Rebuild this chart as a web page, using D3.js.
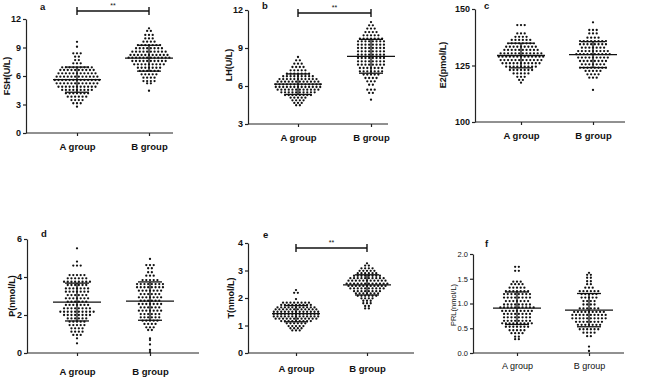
<!DOCTYPE html>
<html>
<head>
<meta charset="utf-8">
<script src="https://cdn.jsdelivr.net/npm/d3@7"></script>
<style>
  body { margin: 0; background: #fff; }
  text { font-family: "Liberation Sans", Arial, sans-serif; fill: #111; }
</style>
</head>
<body>
<div id="chart"></div>
<script>
const groups = ["A group", "B group"];

// FSH (U/L)
const fshA = [9.6, 9.08, 8.39, 8.39, 8.39, 8.03, 8.03, 7.68, 7.68, 7.33, 7.33, 7.33,
  6.91, 6.91, 6.91, 6.91, 6.91, 6.91, 6.91, 6.91, 6.91,
  6.63, 6.63, 6.63, 6.63, 6.63, 6.63, 6.63, 6.63, 6.63, 6.63,
  6.28, 6.28, 6.28, 6.28, 6.28, 6.28, 6.28, 6.28, 6.28, 6.28, 6.28,
  5.93, 5.93, 5.93, 5.93, 5.93, 5.93, 5.93, 5.93, 5.93, 5.93, 5.93, 5.93,
  5.58, 5.58, 5.58, 5.58, 5.58, 5.58, 5.58, 5.58, 5.58, 5.58, 5.58, 5.58, 5.58,
  5.23, 5.23, 5.23, 5.23, 5.23, 5.23, 5.23, 5.23, 5.23, 5.23, 5.23, 5.23,
  4.87, 4.87, 4.87, 4.87, 4.87, 4.87, 4.87, 4.87, 4.87, 4.87, 4.87,
  4.53, 4.53, 4.53, 4.53, 4.53, 4.53, 4.53, 4.53, 4.53,
  4.18, 4.18, 4.18, 4.18, 4.18, 4.18, 4.18,
  3.82, 3.82, 3.82, 3.82, 3.82, 3.82,
  3.47, 3.47, 3.47, 3.47, 3.13, 3.13, 3.13, 2.77];
const fshB = [11.02, 10.74, 10.74, 10.32, 10.32, 10.32, 9.96, 9.96, 9.96, 9.61, 9.61, 9.61, 9.61,
  9.26, 9.26, 9.26, 9.26, 9.26, 9.26, 9.26,
  8.92, 8.92, 8.92, 8.92, 8.92, 8.92, 8.92, 8.92,
  8.56, 8.56, 8.56, 8.56, 8.56, 8.56, 8.56, 8.56, 8.56, 8.56,
  8.21, 8.21, 8.21, 8.21, 8.21, 8.21, 8.21, 8.21, 8.21, 8.21, 8.21,
  7.93, 7.93, 7.93, 7.93, 7.93, 7.93, 7.93, 7.93, 7.93, 7.93, 7.93, 7.93,
  7.58, 7.58, 7.58, 7.58, 7.58, 7.58, 7.58, 7.58, 7.58, 7.58,
  7.23, 7.23, 7.23, 7.23, 7.23, 7.23, 7.23, 7.23, 7.23,
  6.87, 6.87, 6.87, 6.87, 6.87, 6.87, 6.87,
  6.53, 6.53, 6.53, 6.53, 6.53, 6.53,
  6.18, 6.18, 6.18, 6.18, 6.18,
  5.82, 5.82, 5.82, 5.82, 5.47, 5.47, 5.47, 5.47, 5.23, 5.23, 4.45];
const fshTicks = [0, 3, 6, 9, 12];

// LH (U/L)
const lhA = [8.29, 8.03, 8.03, 7.76, 7.76, 7.76, 7.5, 7.5, 7.5, 7.5,
  7.24, 7.24, 7.24, 7.24, 7.24,
  6.97, 6.97, 6.97, 6.97, 6.97, 6.97, 6.97,
  6.77, 6.77, 6.77, 6.77, 6.77, 6.77, 6.77, 6.77, 6.77,
  6.55, 6.55, 6.55, 6.55, 6.55, 6.55, 6.55, 6.55, 6.55, 6.55, 6.55,
  6.34, 6.34, 6.34, 6.34, 6.34, 6.34, 6.34, 6.34, 6.34, 6.34, 6.34, 6.34,
  6.13, 6.13, 6.13, 6.13, 6.13, 6.13, 6.13, 6.13, 6.13, 6.13, 6.13, 6.13, 6.13,
  5.92, 5.92, 5.92, 5.92, 5.92, 5.92, 5.92, 5.92, 5.92, 5.92, 5.92, 5.92, 5.92,
  5.71, 5.71, 5.71, 5.71, 5.71, 5.71, 5.71, 5.71, 5.71, 5.71, 5.71, 5.71,
  5.5, 5.5, 5.5, 5.5, 5.5, 5.5, 5.5, 5.5, 5.5, 5.5,
  5.29, 5.29, 5.29, 5.29, 5.29, 5.29, 5.29, 5.29,
  5.08, 5.08, 5.08, 5.08, 5.08, 4.87, 4.87, 4.87, 4.87,
  4.66, 4.66, 4.66, 4.48, 4.48];
const lhB = [11.05, 10.79, 10.79, 10.53, 10.53, 10.53, 10.26, 10.26, 10.26, 10.26,
  10.0, 10.0, 10.0, 10.0, 10.0,
  9.74, 9.74, 9.74, 9.74, 9.74, 9.74, 9.74,
  9.53, 9.53, 9.53, 9.53, 9.53, 9.53, 9.53, 9.53,
  9.26, 9.26, 9.26, 9.26, 9.26, 9.26, 9.26, 9.26,
  9.0, 9.0, 9.0, 9.0, 9.0, 9.0, 9.0, 9.0,
  8.74, 8.74, 8.74, 8.74, 8.74, 8.74, 8.74, 8.74,
  8.47, 8.47, 8.47, 8.47, 8.47, 8.47, 8.47, 8.47,
  8.21, 8.21, 8.21, 8.21, 8.21, 8.21, 8.21, 8.21,
  7.95, 7.95, 7.95, 7.95, 7.95, 7.95, 7.95, 7.95,
  7.68, 7.68, 7.68, 7.68, 7.68, 7.68, 7.68, 7.68,
  7.42, 7.42, 7.42, 7.42, 7.42, 7.42, 7.42,
  7.16, 7.16, 7.16, 7.16, 7.16, 7.16, 7.16,
  6.9, 6.9, 6.9, 6.9, 6.9, 6.63, 6.63, 6.63, 6.63,
  6.37, 6.37, 6.37, 6.1, 6.1, 5.71, 5.71, 5.71, 5.45, 5.45, 4.92];
const lhTicks = [3, 6, 9, 12];

// E2 (pmol/L)
const e2A = [142.9, 142.9, 142.9, 139.2, 139.2, 139.2, 137.7, 137.7, 137.7, 137.7,
  136.3, 136.3, 136.3, 136.3, 136.3, 136.3,
  134.8, 134.8, 134.8, 134.8, 134.8, 134.8, 134.8, 134.8,
  133.3, 133.3, 133.3, 133.3, 133.3, 133.3, 133.3, 133.3, 133.3,
  131.9, 131.9, 131.9, 131.9, 131.9, 131.9, 131.9, 131.9, 131.9, 131.9,
  130.4, 130.4, 130.4, 130.4, 130.4, 130.4, 130.4, 130.4, 130.4, 130.4, 130.4, 130.4,
  128.9, 128.9, 128.9, 128.9, 128.9, 128.9, 128.9, 128.9, 128.9, 128.9, 128.9, 128.9, 128.9,
  127.4, 127.4, 127.4, 127.4, 127.4, 127.4, 127.4, 127.4, 127.4, 127.4, 127.4, 127.4,
  126.0, 126.0, 126.0, 126.0, 126.0, 126.0, 126.0, 126.0, 126.0, 126.0, 126.0,
  124.5, 124.5, 124.5, 124.5, 124.5, 124.5, 124.5, 124.5, 124.5,
  123.0, 123.0, 123.0, 123.0, 123.0, 123.0, 123.0,
  121.5, 121.5, 121.5, 121.5, 121.5, 120.0, 120.0, 120.0, 118.6, 118.6, 117.4];
const e2B = [144.1, 140.7, 140.7, 140.7, 139.2, 139.2, 139.2, 137.3, 137.3, 137.3, 137.3,
  135.8, 135.8, 135.8, 135.8, 135.8, 135.8, 135.8, 135.8,
  134.4, 134.4, 134.4, 134.4, 134.4, 134.4, 134.4, 134.4,
  132.9, 132.9, 132.9, 132.9, 132.9, 132.9, 132.9,
  131.4, 131.4, 131.4, 131.4, 131.4, 131.4, 131.4, 131.4, 131.4,
  130.0, 130.0, 130.0, 130.0, 130.0, 130.0, 130.0, 130.0, 130.0, 130.0,
  128.5, 128.5, 128.5, 128.5, 128.5, 128.5, 128.5, 128.5, 128.5,
  127.0, 127.0, 127.0, 127.0, 127.0, 127.0, 127.0, 127.0,
  125.5, 125.5, 125.5, 125.5, 125.5, 125.5, 125.5,
  124.0, 124.0, 124.0, 124.0, 124.0, 124.0, 124.0, 124.0,
  122.6, 122.6, 122.6, 122.6, 122.6, 121.1, 121.1, 121.1, 121.1,
  119.6, 119.6, 119.6, 114.2];
const e2Ticks = [100, 125, 150];

// P (nmol/L)
const pA = [5.51, 4.81, 4.6, 4.6, 4.6, 4.1, 4.1, 4.1, 4.1, 4.1,
  3.93, 3.93, 3.93, 3.93, 3.93, 3.93,
  3.75, 3.75, 3.75, 3.75, 3.75, 3.75, 3.75, 3.75,
  3.58, 3.58, 3.58, 3.58, 3.58, 3.58,
  3.4, 3.4, 3.4, 3.4, 3.4, 3.4, 3.4,
  3.23, 3.23, 3.23, 3.23, 3.23, 3.23, 3.23,
  3.05, 3.05, 3.05, 3.05, 3.05, 3.05,
  2.88, 2.88, 2.88, 2.88, 2.88, 2.88, 2.88,
  2.7, 2.7, 2.7, 2.7, 2.7, 2.7,
  2.53, 2.53, 2.53, 2.53, 2.53, 2.53, 2.53,
  2.35, 2.35, 2.35, 2.35, 2.35, 2.35, 2.35, 2.35,
  2.17, 2.17, 2.17, 2.17, 2.17, 2.17, 2.17, 2.17, 2.17, 2.17,
  2.0, 2.0, 2.0, 2.0, 2.0, 2.0, 2.0, 2.0,
  1.82, 1.82, 1.82, 1.82, 1.82, 1.82,
  1.65, 1.65, 1.65, 1.65, 1.65, 1.47, 1.47, 1.47, 1.47, 1.47,
  1.3, 1.3, 1.3, 1.3, 1.12, 1.12, 1.12, 1.12, 0.95, 0.95, 0.95, 0.77, 0.51];
const pB = [4.95, 4.63, 4.63, 4.63, 4.46, 4.46, 4.25, 4.25, 4.07, 4.07, 4.07,
  3.84, 3.84, 3.84, 3.84, 3.84,
  3.63, 3.63, 3.63, 3.63, 3.63, 3.63, 3.63, 3.63,
  3.46, 3.46, 3.46, 3.46, 3.46, 3.46, 3.46, 3.46,
  3.28, 3.28, 3.28, 3.28, 3.28, 3.28, 3.28,
  3.1, 3.1, 3.1, 3.1, 3.1, 3.1,
  2.93, 2.93, 2.93, 2.93, 2.93, 2.93, 2.93,
  2.75, 2.75, 2.75, 2.75, 2.75, 2.75,
  2.58, 2.58, 2.58, 2.58, 2.58, 2.58, 2.58,
  2.4, 2.4, 2.4, 2.4, 2.4, 2.4,
  2.23, 2.23, 2.23, 2.23, 2.23, 2.23, 2.23,
  2.05, 2.05, 2.05, 2.05, 2.05, 2.05,
  1.88, 1.88, 1.88, 1.88, 1.88, 1.88,
  1.7, 1.7, 1.7, 1.7, 1.7, 1.53, 1.53, 1.53, 1.53,
  1.35, 1.35, 1.35, 1.21, 1.21, 0.77, 0.68, 0.45, 0.16, 0.05];
const pTicks = [0, 2, 4, 6];

// T (nmol/L)
const tA = [2.29, 2.19, 2.19, 1.96,
  1.83, 1.83, 1.83, 1.83, 1.83, 1.83, 1.83, 1.83,
  1.75, 1.75, 1.75, 1.75, 1.75, 1.75, 1.75, 1.75, 1.75,
  1.66, 1.66, 1.66, 1.66, 1.66, 1.66, 1.66, 1.66, 1.66, 1.66, 1.66,
  1.59, 1.59, 1.59, 1.59, 1.59, 1.59, 1.59, 1.59, 1.59, 1.59, 1.59, 1.59,
  1.5, 1.5, 1.5, 1.5, 1.5, 1.5, 1.5, 1.5, 1.5, 1.5, 1.5, 1.5, 1.5,
  1.42, 1.42, 1.42, 1.42, 1.42, 1.42, 1.42, 1.42, 1.42, 1.42, 1.42, 1.42, 1.42,
  1.33, 1.33, 1.33, 1.33, 1.33, 1.33, 1.33, 1.33, 1.33, 1.33, 1.33, 1.33, 1.33,
  1.25, 1.25, 1.25, 1.25, 1.25, 1.25, 1.25, 1.25, 1.25, 1.25, 1.25, 1.25,
  1.16, 1.16, 1.16, 1.16, 1.16, 1.16, 1.16, 1.16, 1.16,
  1.08, 1.08, 1.08, 1.08, 1.08, 1.08,
  0.98, 0.98, 0.98, 0.98, 0.98, 0.9, 0.9, 0.9, 0.9, 0.82, 0.82, 0.82];
const tB = [3.26, 3.18, 3.18, 3.08, 3.08, 3.08, 3.08, 2.99, 2.99, 2.99, 2.99, 2.99,
  2.9, 2.9, 2.9, 2.9, 2.9, 2.9,
  2.81, 2.81, 2.81, 2.81, 2.81, 2.81, 2.81, 2.81,
  2.72, 2.72, 2.72, 2.72, 2.72, 2.72, 2.72, 2.72, 2.72, 2.72,
  2.63, 2.63, 2.63, 2.63, 2.63, 2.63, 2.63, 2.63, 2.63, 2.63, 2.63,
  2.52, 2.52, 2.52, 2.52, 2.52, 2.52, 2.52, 2.52, 2.52, 2.52, 2.52, 2.52,
  2.44, 2.44, 2.44, 2.44, 2.44, 2.44, 2.44, 2.44, 2.44, 2.44, 2.44,
  2.35, 2.35, 2.35, 2.35, 2.35, 2.35, 2.35, 2.35, 2.35, 2.35,
  2.25, 2.25, 2.25, 2.25, 2.25, 2.25, 2.25, 2.25,
  2.17, 2.17, 2.17, 2.17, 2.17, 2.17, 2.17,
  2.08, 2.08, 2.08, 2.08, 2.08, 2.08,
  1.99, 1.99, 1.99, 1.99, 1.9, 1.9, 1.9, 1.81, 1.81, 1.81, 1.71, 1.71, 1.62, 1.62];
const tTicks = [0, 1, 2, 3, 4];

// PRL (nmol/L)
const prlA = [1.74, 1.74, 1.66, 1.66, 1.44, 1.44, 1.44, 1.39, 1.39, 1.39, 1.39,
  1.32, 1.32, 1.32, 1.32, 1.32,
  1.25, 1.25, 1.25, 1.25, 1.25, 1.25, 1.25,
  1.19, 1.19, 1.19, 1.19, 1.19, 1.19, 1.19, 1.19,
  1.12, 1.12, 1.12, 1.12, 1.12, 1.12, 1.12, 1.12,
  1.05, 1.05, 1.05, 1.05, 1.05, 1.05, 1.05,
  0.98, 0.98, 0.98, 0.98, 0.98, 0.98, 0.98, 0.98,
  0.92, 0.92, 0.92, 0.92, 0.92, 0.92, 0.92, 0.92, 0.92, 0.92,
  0.85, 0.85, 0.85, 0.85, 0.85, 0.85, 0.85, 0.85, 0.85,
  0.79, 0.79, 0.79, 0.79, 0.79, 0.79, 0.79, 0.79,
  0.72, 0.72, 0.72, 0.72, 0.72, 0.72, 0.72, 0.72,
  0.65, 0.65, 0.65, 0.65, 0.65, 0.65, 0.65, 0.65,
  0.6, 0.6, 0.6, 0.6, 0.6, 0.6, 0.6, 0.6, 0.6,
  0.53, 0.53, 0.53, 0.53, 0.53, 0.53, 0.53,
  0.46, 0.46, 0.46, 0.46, 0.46, 0.4, 0.4, 0.4, 0.4, 0.33, 0.33, 0.28, 0.28];
const prlB = [1.62, 1.58, 1.58, 1.52, 1.52, 1.45, 1.45, 1.39, 1.39, 1.32, 1.32, 1.32,
  1.25, 1.25, 1.25, 1.25, 1.25, 1.25,
  1.19, 1.19, 1.19, 1.19, 1.19, 1.12, 1.12, 1.12, 1.12, 1.12,
  1.05, 1.05, 1.05, 1.05, 0.98, 0.98, 0.98, 0.98,
  0.9, 0.9, 0.9, 0.9, 0.9, 0.9,
  0.83, 0.83, 0.83, 0.83, 0.83, 0.83, 0.83, 0.83, 0.83,
  0.77, 0.77, 0.77, 0.77, 0.77, 0.77, 0.77, 0.77, 0.77, 0.77,
  0.7, 0.7, 0.7, 0.7, 0.7, 0.7, 0.7, 0.7, 0.7, 0.7,
  0.63, 0.63, 0.63, 0.63, 0.63, 0.63, 0.63, 0.63,
  0.57, 0.57, 0.57, 0.57, 0.57, 0.57, 0.57,
  0.48, 0.48, 0.48, 0.48, 0.48, 0.48,
  0.41, 0.41, 0.41, 0.41, 0.34, 0.34, 0.13, 0.04];
const prlTicks = [0, 0.5, 1.0, 1.5, 2.0];

const panels = [
  { letter: "a", title: "FSH(U/L)", A: fshA, B: fshB, ticks: fshTicks, fmt: d3.format("d"), sig: "**" },
  { letter: "b", title: "LH(U/L)", A: lhA, B: lhB, ticks: lhTicks, fmt: d3.format("d"), sig: "**" },
  { letter: "c", title: "E2(pmol/L)", A: e2A, B: e2B, ticks: e2Ticks, fmt: d3.format("d"), sig: null },
  { letter: "d", title: "P(nmol/L)", A: pA, B: pB, ticks: pTicks, fmt: d3.format("d"), sig: null },
  { letter: "e", title: "T(nmol/L)", A: tA, B: tB, ticks: tTicks, fmt: d3.format("d"), sig: "**" },
  { letter: "f", title: "PRL(nmol/L)", A: prlA, B: prlB, ticks: prlTicks, fmt: d3.format(".1f"), sig: null }
];

// where each panel sits in the page
const frames = [
  { ax: 26, xEnd: 173, top: 19, bottom: 133, pA: 77, pB: 149, lab: 17, letX: 40, letY: 10, titX: 10, titY: 76, sigY: 11, bold: true },
  { ax: 248, xEnd: 388, top: 10, bottom: 124, pA: 298, pB: 371, lab: 17, letX: 262, letY: 9, titX: 232, titY: 65, sigY: 13, bold: true },
  { ax: 475, xEnd: 625, top: 9, bottom: 122, pA: 521, pB: 593, lab: 16.5, letX: 484, letY: 9, titX: 446, titY: 65, sigY: 0, bold: true },
  { ax: 27, xEnd: 199, top: 239, bottom: 353, pA: 77, pB: 150, lab: 21.5, letX: 41, letY: 237, titX: 15, titY: 296, sigY: 0, bold: true },
  { ax: 248, xEnd: 414, top: 243, bottom: 353, pA: 296, pB: 367, lab: 18.5, letX: 263, letY: 238, titX: 234, titY: 298, sigY: 248, bold: true },
  { ax: 473, xEnd: 624, top: 254, bottom: 353, pA: 517, pB: 589, lab: 15.5, letX: 485, letY: 247, titX: 456, titY: 305, sigY: 0, bold: false }
];

const dotR = 1.15;
const dotGap = 3.7;
const ink = "#111";

const svg = d3.select("#chart").append("svg")
  .attr("width", 645)
  .attr("height", 377);

panels.forEach((p, k) => {
  const f = frames[k];
  const weight = f.bold ? "bold" : "normal";

  let y = d3.scaleLinear()
    .domain([p.ticks[0], p.ticks[p.ticks.length - 1]])
    .range([f.bottom, f.top]);

  let x = d3.scalePoint()
    .domain(groups)
    .range([f.pA, f.pB]);

  let g = svg.append("g");

  // y axis
  let ya = g.append("g")
    .attr("transform", "translate(" + f.ax + ",0)")
    .call(d3.axisLeft(y).tickValues(p.ticks).tickFormat(p.fmt)
      .tickSize(3).tickSizeOuter(0).tickPadding(2));
  ya.selectAll("text")
    .attr("font-size", f.bold ? 9 : 7.5)
    .attr("font-weight", weight)
    .attr("font-family", "Liberation Sans, Arial, sans-serif")
    .attr("fill", ink);

  // x axis
  let xa = g.append("g")
    .attr("transform", "translate(0," + f.bottom + ")")
    .call(d3.axisBottom(x).tickSize(3).tickSizeOuter(0).tickPadding(0));
  xa.select(".domain").remove();
  xa.selectAll("text")
    .attr("y", f.lab)
    .attr("dy", 0)
    .attr("font-size", f.bold ? 9.5 : 9)
    .attr("font-weight", weight)
    .attr("font-family", "Liberation Sans, Arial, sans-serif")
    .attr("fill", ink);

  g.append("line")
    .attr("x1", f.ax)
    .attr("x2", f.xEnd)
    .attr("y1", f.bottom)
    .attr("y2", f.bottom)
    .attr("stroke", "#222");

  g.selectAll(".domain, .tick line")
    .attr("stroke", "#222")
    .attr("stroke-width", 1.2);

  // y title
  g.append("text")
    .attr("transform", "translate(" + f.titX + "," + f.titY + ") rotate(-90)")
    .attr("text-anchor", "middle")
    .attr("font-size", f.bold ? 9 : 7.5)
    .attr("font-weight", weight)
    .text(p.title);

  // panel letter
  g.append("text")
    .attr("x", f.letX)
    .attr("y", f.letY)
    .attr("font-size", 9.5)
    .attr("font-weight", "bold")
    .text(p.letter);

  // dots, laid out in rows like a Prism scatter
  [p.A, p.B].forEach((vals, gi) => {
    const cx = x(groups[gi]);
    const rows = d3.groups(vals, d => d);
    let pts = [];
    rows.forEach(([v, arr]) => {
      arr.forEach((d, i) => {
        pts.push({ x: cx + (i - (arr.length - 1) / 2) * dotGap, y: y(v) });
      });
    });

    g.append("g").selectAll("circle")
      .data(pts)
      .enter().append("circle")
      .attr("cx", d => d.x)
      .attr("cy", d => d.y)
      .attr("r", dotR)
      .attr("fill", ink);

    const m = d3.mean(vals);
    const sd = d3.deviation(vals);
    const bars = g.append("g")
      .attr("stroke", ink)
      .attr("stroke-width", 1.3);
    bars.append("line")
      .attr("x1", cx - 24).attr("x2", cx + 24)
      .attr("y1", y(m)).attr("y2", y(m));
    bars.append("line")
      .attr("x1", cx).attr("x2", cx)
      .attr("y1", y(m + sd)).attr("y2", y(m - sd));
    [m + sd, m - sd].forEach(v => {
      bars.append("line")
        .attr("x1", cx - 12).attr("x2", cx + 12)
        .attr("y1", y(v)).attr("y2", y(v));
    });
  });

  // significance bracket
  if (p.sig) {
    const sg = g.append("g").attr("stroke", ink).attr("stroke-width", 1.4);
    sg.append("line")
      .attr("x1", x(groups[0])).attr("x2", x(groups[1]))
      .attr("y1", f.sigY).attr("y2", f.sigY);
    groups.forEach(gr => {
      sg.append("line")
        .attr("x1", x(gr)).attr("x2", x(gr))
        .attr("y1", f.sigY - 4).attr("y2", f.sigY + 4);
    });
    g.append("text")
      .attr("x", (x(groups[0]) + x(groups[1])) / 2)
      .attr("y", f.sigY - 3)
      .attr("text-anchor", "middle")
      .attr("font-size", 7)
      .text(p.sig);
  }
});
</script>
</body>
</html>
